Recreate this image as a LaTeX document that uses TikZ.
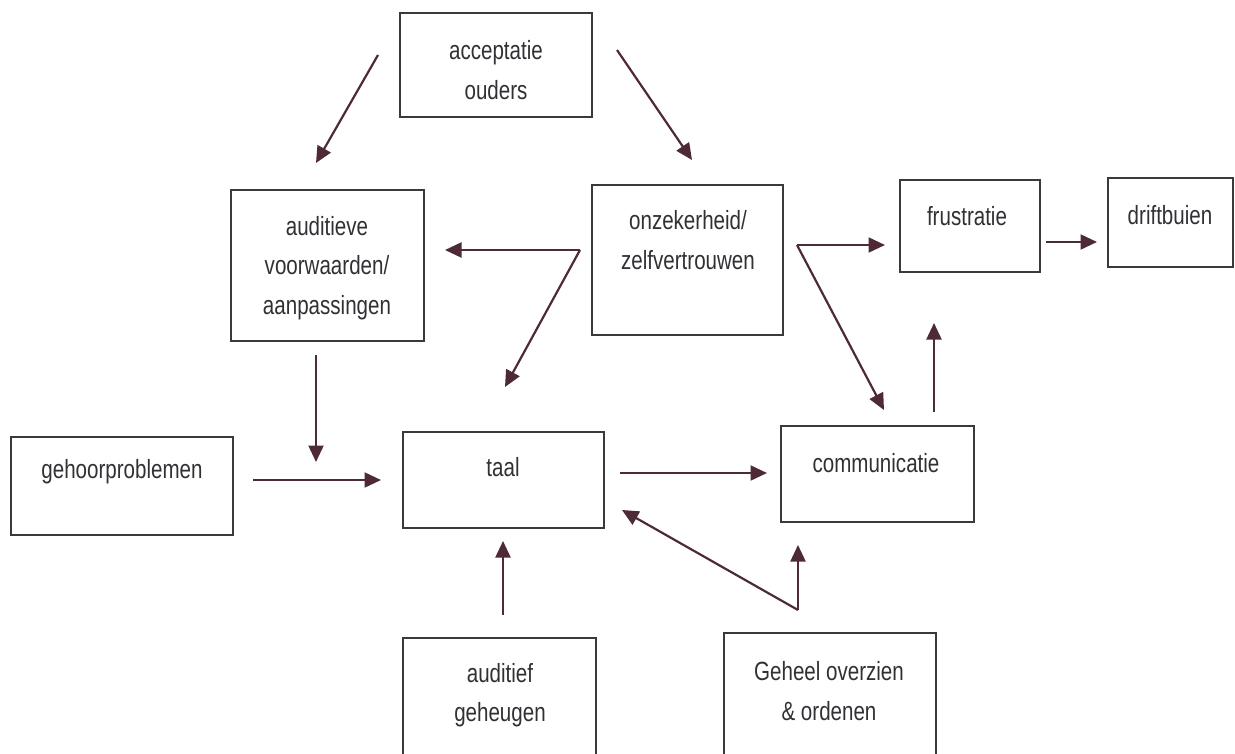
\documentclass[tikz,border=0pt]{standalone}
\usepackage{fontspec}
\setmainfont[FakeStretch=0.78]{Liberation Sans}
\usetikzlibrary{arrows.meta}
\definecolor{boxline}{RGB}{60,56,62}
\definecolor{arrowcol}{RGB}{78,42,56}
\definecolor{textcol}{RGB}{50,48,52}
\tikzset{
  flowarrow/.style={-{Triangle[length=3.3mm, width=3.0mm]}, line width=1.25pt, draw=arrowcol},
  blok/.style={draw=boxline, line width=1.25pt, inner sep=0pt},
  tekst/.style={text=textcol, align=center, inner sep=0pt, font=\fontsize{15}{22.5}\selectfont}
}
\begin{document}
\begin{tikzpicture}[x=0.02cm, y=-0.02cm]
  \useasboundingbox (0,0) rectangle (1235,754);
  \clip (0,0) rectangle (1235,754);
  % boxes
  \node[blok, minimum width=3.84cm, minimum height=2.08cm] (acc) at (496,65) {};
  \node[blok, minimum width=3.86cm, minimum height=3.02cm] (aud) at (327.5,265.5) {};
  \node[blok, minimum width=3.82cm, minimum height=3.00cm] (onz) at (687.5,260) {};
  \node[blok, minimum width=2.80cm, minimum height=1.84cm] (fru) at (970,226) {};
  \node[blok, minimum width=2.50cm, minimum height=1.78cm] (dri) at (1170.5,222.5) {};
  \node[blok, minimum width=4.44cm, minimum height=1.96cm] (geh) at (122,486) {};
  \node[blok, minimum width=4.02cm, minimum height=1.92cm] (taal) at (503.5,480) {};
  \node[blok, minimum width=3.86cm, minimum height=1.92cm] (com) at (877.5,474) {};
  \node[blok, minimum width=3.86cm, minimum height=2.84cm] (aug) at (499.5,709) {};
  \node[blok, minimum width=4.24cm, minimum height=2.94cm] (geo) at (830,706.5) {};
  % texts
  \node[tekst] (acc-t) at (496,70) {acceptatie\\ouders};
  \node[tekst] (aud-t) at (327,268) {auditieve\\voorwaarden/\\aanpassingen};
  \node[tekst] (onz-t) at (688,240) {onzekerheid/\\zelfvertrouwen};
  \node[tekst] (fru-t) at (967,216) {frustratie};
  \node[tekst] (dri-t) at (1170,215) {driftbuien};
  \node[tekst] (geh-t) at (122,472) {gehoorproblemen};
  \node[tekst] (taal-t) at (503,467) {taal};
  \node[tekst] (com-t) at (876,463) {communicatie};
  \node[tekst] (aug-t) at (500,695) {auditief\\geheugen};
  \node[tekst] (geo-t) at (829,691) {Geheel overzien\\\& ordenen};
  % arrow ends
  \coordinate (acc-l) at (378,55);
  \coordinate (aud-in) at (316,163);
  \coordinate (acc-r) at (617,50);
  \coordinate (onz-in) at (692,160);
  \coordinate (onz-l) at (580,250);
  \coordinate (aud-r) at (445,250);
  \coordinate (taal-b) at (505,387);
  \coordinate (onz-r) at (797,245);
  \coordinate (fru-in) at (885,245);
  \coordinate (com-b) at (884,410);
  \coordinate (aud-o) at (316,355);
  \coordinate (taal-a) at (316,462);
  \coordinate (geh-o) at (253,480);
  \coordinate (taal-g) at (381,480);
  \coordinate (taal-o) at (620,473);
  \coordinate (com-in) at (767,473);
  \coordinate (com-o) at (934,412);
  \coordinate (fru-b) at (934,323);
  \coordinate (fru-o) at (1046,242);
  \coordinate (dri-in) at (1097,242);
  \coordinate (aug-o) at (503,615);
  \coordinate (taal-u) at (503,541);
  \coordinate (geo-o) at (798,610);
  \coordinate (taal-r) at (622,510);
  \coordinate (com-u) at (798,545);
  % connectors
  \draw[flowarrow] (acc-l) -- (aud-in);
  \draw[flowarrow] (acc-r) -- (onz-in);
  \draw[flowarrow] (onz-l) -- (aud-r);
  \draw[flowarrow] (onz-l) -- (taal-b);
  \draw[flowarrow] (onz-r) -- (fru-in);
  \draw[flowarrow] (onz-r) -- (com-b);
  \draw[flowarrow] (aud-o) -- (taal-a);
  \draw[flowarrow] (geh-o) -- (taal-g);
  \draw[flowarrow] (taal-o) -- (com-in);
  \draw[flowarrow] (com-o) -- (fru-b);
  \draw[flowarrow] (fru-o) -- (dri-in);
  \draw[flowarrow] (aug-o) -- (taal-u);
  \draw[flowarrow] (geo-o) -- (taal-r);
  \draw[flowarrow] (geo-o) -- (com-u);
\end{tikzpicture}
\end{document}
